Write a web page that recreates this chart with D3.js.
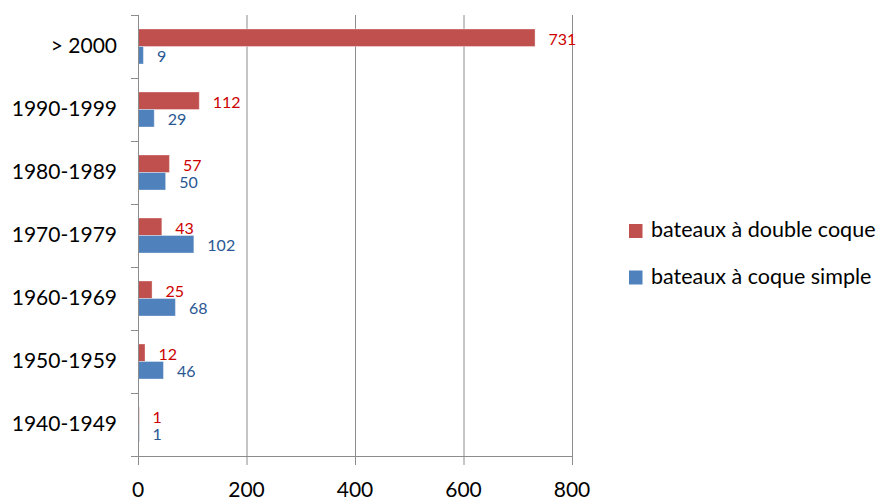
<!DOCTYPE html>
<html>
<head>
<meta charset="utf-8">
<script src="https://cdn.jsdelivr.net/npm/d3@7"></script>
<style>
  html, body { margin: 0; padding: 0; background: #fff; }
  svg { display: block; font-family: Lato, "Open Sans", sans-serif; }
</style>
</head>
<body>
<svg id="chart" width="888" height="502"></svg>
<script>
// Age brackets of the fleet, top to bottom
const categories = ["> 2000", "1990-1999", "1980-1989", "1970-1979", "1960-1969", "1950-1959", "1940-1949"];
// Number of boats per bracket
const doubleHull = [731, 112, 57, 43, 25, 12, 1];
const singleHull = [9, 29, 50, 102, 68, 46, 1];
const seriesNames = ["bateaux à double coque", "bateaux à coque simple"];
const xTicks = [0, 200, 400, 600, 800];

const series = [
  { name: seriesNames[0], values: doubleHull, fill: "#C0504D", text: "#CC0000" },
  { name: seriesNames[1], values: singleHull, fill: "#4F81BD", text: "#2A5793" }
];

const svg = d3.select("#chart");
const plot = { left: 138, right: 572, top: 15, bottom: 456 };

const x = d3.scaleLinear().domain([0, 800]).range([plot.left, plot.right]);
const y = d3.scaleBand().domain(categories).range([plot.top, plot.bottom]).padding(0);
const ySub = d3.scaleBand().domain(seriesNames).range([0, y.bandwidth()]).paddingOuter(0.8).paddingInner(0);

const grey = "#8C8C8C";

// vertical gridlines
svg.append("g").selectAll("line").data(xTicks.slice(1)).join("line")
  .attr("x1", d => x(d) + 0.5).attr("x2", d => x(d) + 0.5)
  .attr("y1", plot.top).attr("y2", plot.bottom)
  .attr("stroke", grey).attr("stroke-width", 1);

// bars and value labels
const rows = categories.map((c, i) => ({ cat: c, i }));
series.forEach(s => {
  svg.append("g").selectAll("rect").data(rows).join("rect")
    .attr("x", x(0) + 0.5)
    .attr("y", d => y(d.cat) + ySub(s.name))
    .attr("width", d => Math.max(x(s.values[d.i]) - x(0), 0.8))
    .attr("height", ySub.bandwidth())
    .attr("fill", s.fill)
    .attr("stroke", "#ffffff").attr("stroke-opacity", 0.35).attr("stroke-width", 1);

  svg.append("g").selectAll("text").data(rows).join("text")
    .attr("x", d => x(s.values[d.i]) + 14)
    .attr("y", d => y(d.cat) + ySub(s.name) + ySub.bandwidth() / 2 + 3)
    .attr("dominant-baseline", "middle")
    .attr("font-size", 16)
    .attr("fill", s.text)
    .text(d => s.values[d.i]);
});

// y axis line and category separators
svg.append("line")
  .attr("x1", plot.left + 0.5).attr("x2", plot.left + 0.5)
  .attr("y1", plot.top).attr("y2", plot.bottom)
  .attr("stroke", grey);
const sepYs = categories.map(c => y(c)).concat([plot.bottom]);
svg.append("g").selectAll("line").data(sepYs).join("line")
  .attr("x1", plot.left - 7).attr("x2", plot.left + 0.5)
  .attr("y1", d => Math.round(d) + 0.5).attr("y2", d => Math.round(d) + 0.5)
  .attr("stroke", grey);

// x axis line and ticks
svg.append("line")
  .attr("x1", plot.left - 7).attr("x2", plot.right + 0.5)
  .attr("y1", plot.bottom + 0.5).attr("y2", plot.bottom + 0.5)
  .attr("stroke", grey);
svg.append("g").selectAll("line").data(xTicks).join("line")
  .attr("x1", d => x(d) + 0.5).attr("x2", d => x(d) + 0.5)
  .attr("y1", plot.bottom).attr("y2", plot.bottom + 9)
  .attr("stroke", grey);

// x tick labels
svg.append("g").selectAll("text").data(xTicks).join("text")
  .attr("x", d => x(d))
  .attr("y", 497)
  .attr("text-anchor", "middle")
  .attr("font-size", 21)
  .attr("fill", "#000")
  .text(d => d);

// category labels
svg.append("g").selectAll("text").data(categories).join("text")
  .attr("x", 117)
  .attr("y", d => y(d) + y.bandwidth() / 2 + 1)
  .attr("text-anchor", "end")
  .attr("dominant-baseline", "middle")
  .attr("font-size", 21)
  .attr("fill", "#000")
  .text(d => d);

// legend
const legend = svg.append("g");
const legendYs = [231, 277.5];
series.forEach((s, i) => {
  legend.append("rect")
    .attr("x", 629).attr("y", legendYs[i] - 7)
    .attr("width", 13.5).attr("height", 14)
    .attr("fill", s.fill);
  legend.append("text")
    .attr("x", 651).attr("y", legendYs[i] + 1)
    .attr("dominant-baseline", "middle")
    .attr("font-size", 21.5)
    .attr("fill", "#000")
    .text(s.name);
});
</script>
</body>
</html>
